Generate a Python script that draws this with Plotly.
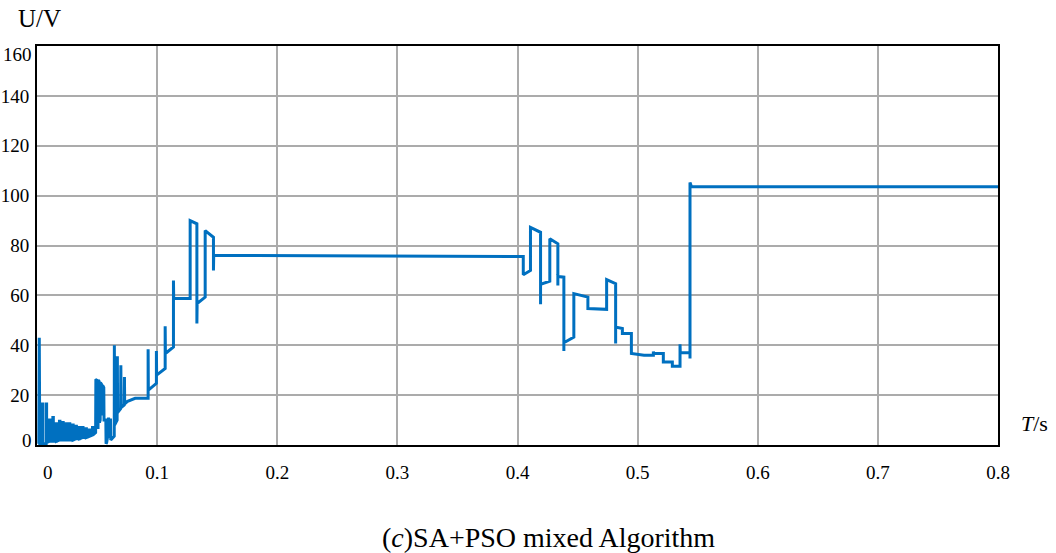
import plotly.graph_objects as go

# Output voltage U (V) versus time T (s) for the SA+PSO mixed algorithm
time_s = [
    0.0015, 0.0019, 0.0023,
    0.0043, 0.0043, 0.0047, 0.0047, 0.0076, 0.0076, 0.0080, 0.0080,
    0.0104, 0.0104, 0.0108, 0.0108,
    0.0132, 0.0132, 0.0136, 0.0136,
    0.0159, 0.0159, 0.0163, 0.0163,
    0.0187, 0.0187, 0.0191, 0.0191,
    0.0214, 0.0214, 0.0218, 0.0218,
    0.0242, 0.0242, 0.0246, 0.0246,
    0.0269, 0.0269, 0.0273, 0.0273,
    0.0297, 0.0297, 0.0301, 0.0301,
    0.0324, 0.0324, 0.0328, 0.0328,
    0.0352, 0.0352, 0.0356, 0.0356,
    0.0379, 0.0379, 0.0383, 0.0383,
    0.0407, 0.0407, 0.0411, 0.0411,
    0.0434, 0.0434, 0.0438, 0.0438,
    0.0462, 0.0462, 0.0466, 0.0466,
    0.0488, 0.0490, 0.0500, 0.0502, 0.0508, 0.0510, 0.0518, 0.0520,
    0.0526, 0.0528, 0.0536, 0.0538, 0.0544, 0.0546, 0.0556, 0.0558,
    0.0573, 0.0575, 0.0580, 0.0590, 0.0592, 0.0596, 0.0598, 0.0606,
    0.0608, 0.0612, 0.0614, 0.0643, 0.0644, 0.0646, 0.0667, 0.0669,
    0.0671, 0.0696, 0.0698, 0.0700, 0.0726, 0.0728, 0.0730, 0.0754,
    0.0817, 0.0925, 0.0925, 0.0927, 0.0994, 0.0994, 0.0996, 0.1067,
    0.1067, 0.1069, 0.1136, 0.1136, 0.1138, 0.1275, 0.1275, 0.1331,
    0.1331, 0.1333, 0.1400, 0.1400, 0.1469, 0.1469, 0.1471,
    0.4048, 0.4048, 0.4108, 0.4108, 0.4192, 0.4192, 0.4192, 0.4269,
    0.4269, 0.4336, 0.4336, 0.4336, 0.4386, 0.4386, 0.4386, 0.4469,
    0.4469, 0.4586, 0.4586, 0.4742, 0.4742, 0.4817, 0.4817, 0.4817,
    0.4873, 0.4873, 0.4948, 0.4948, 0.5053, 0.5131, 0.5131, 0.5133,
    0.5214, 0.5214, 0.5289, 0.5289, 0.5353, 0.5353, 0.5355, 0.5436,
    0.5436, 0.5436, 0.5448, 0.8000,
]
voltage_v = [
    0.5, 43.0, 0.5,
    0.5, 16.4, 16.4, 0.5, 0.5, 16.4, 16.4, 1.0,
    1.5, 10.0, 10.0, 1.5,
    1.5, 11.0, 11.0, 1.5,
    1.5, 8.5, 8.5, 1.5,
    2.0, 9.5, 9.5, 2.0,
    2.0, 9.0, 9.0, 2.0,
    2.0, 8.5, 8.5, 2.0,
    2.0, 8.5, 8.5, 2.0,
    2.0, 8.0, 8.0, 2.0,
    2.5, 7.5, 7.5, 2.5,
    2.5, 7.0, 7.0, 2.5,
    3.0, 7.0, 7.0, 3.0,
    3.0, 6.5, 6.5, 3.0,
    3.5, 6.0, 6.0, 3.5,
    4.0, 7.0, 7.0, 4.0,
    5.0, 26.0, 26.3, 7.0, 7.0, 26.0, 25.5, 9.0,
    10.0, 25.0, 24.5, 12.0, 13.0, 24.0, 23.0, 10.0,
    10.0, 0.5, 1.0, 4.0, 11.0, 11.0, 4.0, 3.0,
    10.0, 10.0, 2.0, 3.5, 40.0, 8.0, 10.0, 35.6,
    13.0, 14.5, 32.0, 15.0, 16.0, 27.3, 16.5, 17.5,
    18.7, 18.7, 38.4, 22.0, 24.7, 37.7, 28.0, 30.7,
    47.6, 36.7, 39.3, 66.0, 58.7, 58.7, 90.0, 88.7,
    48.7, 56.7, 59.3, 86.0, 83.3, 70.0, 76.0,
    75.6, 68.3, 70.0, 87.3, 85.3, 56.4, 64.4, 65.7,
    82.7, 80.7, 64.0, 67.6, 67.3, 37.7, 41.0, 43.3,
    60.7, 59.3, 54.7, 54.4, 66.3, 64.7, 40.7, 47.3,
    46.7, 44.7, 44.7, 36.7, 36.0, 36.0, 37.5, 36.7,
    36.7, 33.3, 33.3, 31.6, 31.6, 40.4, 37.0, 37.0,
    34.7, 105.3, 103.6, 103.6,
]

x_ticks = [0.1, 0.2, 0.3, 0.4, 0.5, 0.6, 0.7, 0.8]
x_tick_text = ["0.1", "0.2", "0.3", "0.4", "0.5", "0.6", "0.7", "0.8"]
y_ticks = [0, 20, 40, 60, 80, 100, 120, 140, 160]
y_tick_text = ["", "20", "40", "60", "80", "100", "120", "140", ""]

SERIF = "Liberation Serif"
TICK_FONT = dict(family=SERIF, size=19, color="black")
GRID = "#ababab"

fig = go.Figure()
fig.add_trace(go.Scatter(
    x=time_s, y=voltage_v, mode="lines",
    line=dict(color="#0070c0", width=3),
    hoverinfo="skip", showlegend=False,
))

fig.update_layout(
    width=1056, height=553,
    margin=dict(l=37, r=58, t=46, b=108),
    paper_bgcolor="white", plot_bgcolor="white",
    font=dict(family=SERIF, color="black"),
    showlegend=False,
)
fig.update_xaxes(
    range=[0, 0.8], tickvals=x_ticks, ticktext=x_tick_text,
    showgrid=True, gridcolor=GRID, gridwidth=1.5,
    showline=True, linecolor="black", linewidth=2, mirror=True,
    ticks="", tickfont=TICK_FONT, ticklabelstandoff=9, zeroline=False,
    automargin=False,
)
fig.update_yaxes(
    range=[0, 160], tickvals=y_ticks, ticktext=y_tick_text,
    showgrid=True, gridcolor=GRID, gridwidth=1.5,
    showline=True, linecolor="black", linewidth=2, mirror=True,
    ticks="", tickfont=TICK_FONT, ticklabelstandoff=2, zeroline=False,
    automargin=False,
)

annotations = [
    # end-of-axis tick labels nudged inside the frame
    dict(text="0", x=0.009, y=-0.068, xref="x", yref="paper",
         xanchor="center", yanchor="middle", font=TICK_FONT, showarrow=False),
    dict(text="0", x=-0.003, y=0, xref="paper", yref="y", yshift=5,
         xanchor="right", yanchor="middle", font=TICK_FONT, showarrow=False),
    dict(text="160", x=-0.003, y=160, xref="paper", yref="y", yshift=-8,
         xanchor="right", yanchor="middle", font=TICK_FONT, showarrow=False),
    # axis names
    dict(text="U/V", x=0.003, y=1.07, xref="paper", yref="paper",
         xanchor="center", yanchor="middle",
         font=dict(family=SERIF, size=25, color="black"), showarrow=False),
    dict(text="<i>T</i>/s", x=1.0375, y=0.055, xref="paper", yref="paper",
         xanchor="center", yanchor="middle",
         font=dict(family=SERIF, size=22, color="black"), showarrow=False),
    # caption
    dict(text="(<i>c</i>)SA+PSO mixed Algorithm", x=0.532, y=-0.233,
         xref="paper", yref="paper", xanchor="center", yanchor="middle",
         font=dict(family=SERIF, size=28, color="black"), showarrow=False),
]
fig.update_layout(annotations=annotations)

fig.write_html("out.html")
